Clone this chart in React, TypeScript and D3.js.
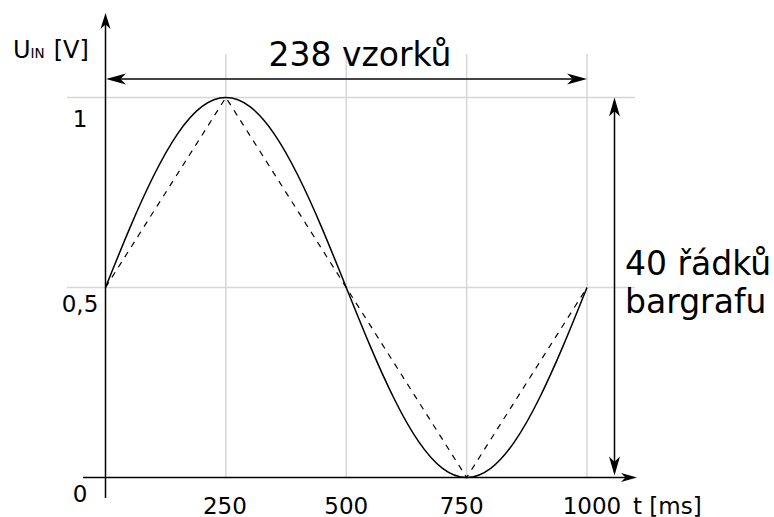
import React from 'react'
import * as d3 from 'd3'

// t [ms] and U [V]
const sineT = [0, 50, 100, 150, 200, 250, 300, 350, 400, 450, 500, 550, 600, 650, 700, 750, 800, 850, 900, 950, 1000]
const sineU = [0.5, 0.655, 0.794, 0.905, 0.976, 1, 0.976, 0.905, 0.794, 0.655, 0.5, 0.345, 0.206, 0.095, 0.024, 0, 0.024, 0.095, 0.206, 0.345, 0.5]
const sampleT = [0, 250, 750, 1000]
const sampleU = [0.5, 1, 0, 0.5]
const xTicks = [250, 500, 750, 1000]
const yTicks = [0, 0.5, 1]
const yTickLabels = ['0', '0,5', '1']
const samplesLabel = '238 vzorků'
const rowsLabel = ['40 řádků', 'bargrafu']

const width = 774
const height = 517
const font = 'DejaVu Sans, sans-serif'
const grid = '#d6d6d6'

// hand placement of the x labels in the original drawing
const xLabelNudge: Record<number, number> = { 250: -1, 500: 0, 750: -5, 1000: 5 }

const arrowHead = (x: number, y: number, angle: number, len: number, half: number, color: string) => {
  // swept arrowhead, tip at (x, y), pointing along angle (deg)
  const d = `M0,0 L${-len},${-half} L${-len * 0.72},0 L${-len},${half} Z`
  return <path d={d} fill={color} transform={`translate(${x},${y}) rotate(${angle})`} />
}

export default function App() {
  const x = d3.scaleLinear().domain([0, 1000]).range([105.5, 587])
  const y = d3.scaleLinear().domain([0, 1]).range([477.5, 97.5])

  const sine = d3.line<number>()
    .x((_, i) => x(sineT[i]))
    .y(d => y(d))
    .curve(d3.curveNatural)(sineU)

  const samples = d3.line<number>()
    .x((_, i) => x(sampleT[i]))
    .y(d => y(d))(sampleU)

  const x0 = x(0)
  const yTop = y(1)
  const yBot = y(0)
  const rightArrowX = 614.5

  return (
    <svg width={width} height={height} viewBox={`0 0 ${width} ${height}`}
      style={{ position: 'absolute', left: 0, top: 0, background: '#fff' }} fontFamily={font}>
      {/* grid */}
      {xTicks.map(t => (
        <line key={'gx' + t} x1={x(t)} x2={x(t)} y1={54} y2={yBot} stroke={grid} strokeWidth={1.5} />
      ))}
      {yTicks.filter(v => v > 0).map(v => (
        <line key={'gy' + v} x1={67} x2={635} y1={y(v)} y2={y(v)} stroke={grid} strokeWidth={1.5} />
      ))}

      {/* axes */}
      <line x1={83} x2={630} y1={yBot} y2={yBot} stroke="#000" strokeWidth={1.5} />
      {arrowHead(637, yBot, 0, 16, 4.5, '#000')}
      <line x1={x0} x2={x0} y1={498} y2={20} stroke="#000" strokeWidth={1.5} />
      {arrowHead(x0, 13, -90, 16, 5, '#000')}

      {/* curves */}
      <path d={samples || ''} fill="none" stroke="#000" strokeWidth={1.2} strokeDasharray="6,6" />
      <path d={sine || ''} fill="none" stroke="#000" strokeWidth={1.5} />

      {/* 238 samples arrow */}
      <line x1={x0 + 6} x2={x(1000) - 6} y1={79} y2={79} stroke="#444" strokeWidth={2} />
      {arrowHead(x0 + 0.5, 79, 180, 20, 5.5, '#000')}
      {arrowHead(x(1000), 79, 0, 20, 5.5, '#000')}
      <text x={360} y={66} fontSize={33} textAnchor="middle">{samplesLabel}</text>

      {/* 40 rows arrow */}
      <line x1={rightArrowX} x2={rightArrowX} y1={yTop + 6} y2={yBot - 6} stroke="#000" strokeWidth={1.5} />
      {arrowHead(rightArrowX, yTop, -90, 19, 5.5, '#000')}
      {arrowHead(rightArrowX, yBot - 2, 90, 19, 5.5, '#000')}
      {rowsLabel.map((s, i) => (
        <text key={s} x={625} y={275 + i * 38} fontSize={33}>{s}</text>
      ))}

      {/* tick labels */}
      {yTicks.map((v, i) => (
        <text key={'ty' + v} x={80} y={y(v) + (v === 1 ? 29.5 : 24.5)} fontSize={23} textAnchor="middle">{yTickLabels[i]}</text>
      ))}
      {xTicks.map(t => (
        <text key={'tx' + t} x={x(t) + (xLabelNudge[t] || 0)} y={514} fontSize={23} textAnchor="middle">{t}</text>
      ))}
      <text x={633} y={514} fontSize={23}>t [ms]</text>

      {/* y label */}
      <text x={13} y={58} fontSize={24}>
        U<tspan fontSize={13.5}>IN</tspan><tspan dx={9}>[V]</tspan>
      </text>
    </svg>
  )
}
